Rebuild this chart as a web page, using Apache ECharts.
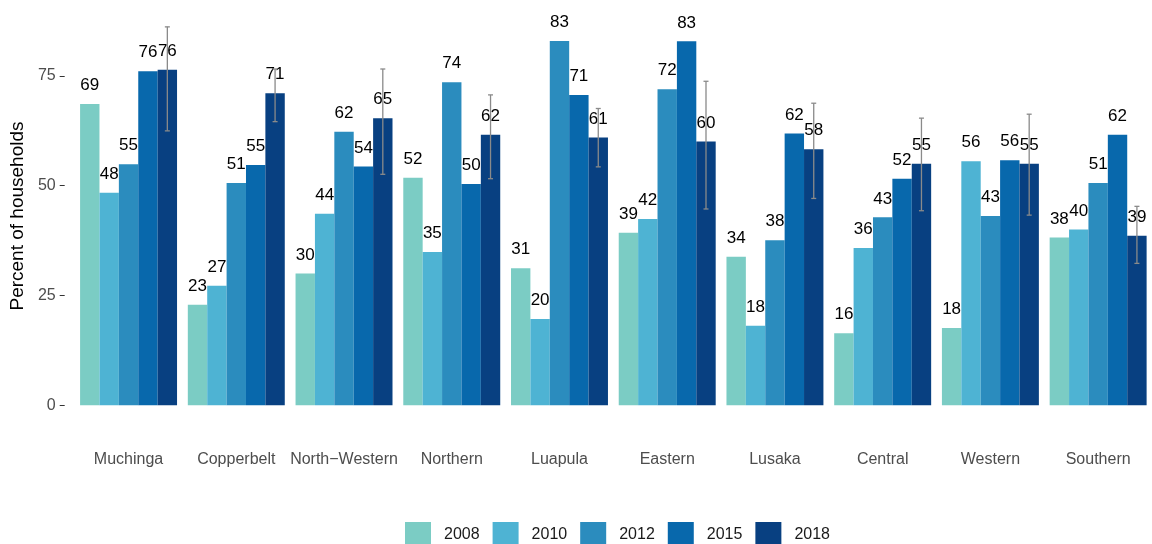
<!DOCTYPE html>
<html>
<head>
<meta charset="utf-8">
<script src="https://cdn.jsdelivr.net/npm/echarts@6/dist/echarts.min.js"></script>
<style>
html,body{margin:0;padding:0;background:#fff;}
#chart{width:1152px;height:544px;}
</style>
</head>
<body>
<div id="chart"></div>
<script>
const categories = ['Muchinga','Copperbelt','North\u2212Western','Northern','Luapula','Eastern','Lusaka','Central','Western','Southern'];
const years = ['2008','2010','2012','2015','2018'];
const v2008 = [68.6, 22.9, 30.0, 51.8, 31.2, 39.3, 33.8, 16.4, 17.6, 38.2];
const v2010 = [48.4, 27.2, 43.6, 34.9, 19.6, 42.4, 18.1, 35.8, 55.6, 40.0];
const v2012 = [54.9, 50.6, 62.3, 73.6, 83.0, 72.0, 37.6, 42.8, 43.1, 50.6];
const v2015 = [76.1, 54.7, 54.4, 50.4, 70.7, 82.9, 61.9, 51.6, 55.8, 61.6];
const v2018 = [76.4, 71.1, 65.4, 61.6, 61.0, 60.1, 58.3, 55.0, 55.0, 38.6];
const err2018Low  = [62.5, 64.6, 52.6, 51.6, 54.3, 44.7, 47.1, 44.3, 43.3, 32.3];
const err2018High = [86.2, 76.6, 76.6, 70.7, 67.6, 73.8, 68.8, 65.4, 66.3, 45.3];
const yTicks = [0, 25, 50, 75];
const colors = ['#7bccc4','#4eb3d3','#2b8cbe','#0868ac','#084081'];

const seriesValues = [v2008, v2010, v2012, v2015, v2018];
const FONT = 'Liberation Sans, Arial, sans-serif';

const barSeries = years.map((y, i) => ({
  name: y,
  type: 'bar',
  data: seriesValues[i],
  barWidth: '18%',
  barGap: '0%',
  itemStyle: { color: colors[i] },
  label: {
    show: true,
    position: 'top',
    distance: 10,
    color: '#000',
    fontSize: 17,
    fontFamily: FONT,
    formatter: p => Math.round(p.value)
  },
  z: 2
}));

const errData = categories.map((c, i) => [i, err2018Low[i], err2018High[i]]);

const errSeries = {
  type: 'custom',
  name: 'err',
  data: errData,
  encode: { x: 0, y: [1, 2] },
  z: 10,
  silent: true,
  renderItem: function (params, api) {
    const xi = api.value(0);
    const lo = api.coord([xi, api.value(1)]);
    const hi = api.coord([xi, api.value(2)]);
    const band = api.size([1, 0])[0];
    const off = band * 0.18 * 2;
    const x = lo[0] + off;
    const cap = 2.5;
    const style = { stroke: '#8a8a8a', lineWidth: 1.3 };
    return {
      type: 'group',
      children: [
        { type: 'line', shape: { x1: x, y1: lo[1], x2: x, y2: hi[1] }, style: style },
        { type: 'line', shape: { x1: x - cap, y1: lo[1], x2: x + cap, y2: lo[1] }, style: style },
        { type: 'line', shape: { x1: x - cap, y1: hi[1], x2: x + cap, y2: hi[1] }, style: style }
      ]
    };
  }
};

const chart = echarts.init(document.getElementById('chart'), null, { renderer: 'canvas' });
chart.setOption({
  backgroundColor: '#fff',
  animation: false,
  textStyle: { fontFamily: FONT },
  grid: { left: 70, right: 0, top: 8, bottom: 120, containLabel: false },
  legend: {
    data: years,
    left: 400,
    top: 517,
    itemWidth: 26,
    itemHeight: 26,
    itemGap: 13,
    icon: 'rect',
    textStyle: { fontSize: 16, color: '#1a1a1a', fontFamily: FONT, padding: [0, 0, 0, 8] }
  },
  xAxis: {
    type: 'category',
    data: categories,
    axisLine: { show: false },
    axisTick: { show: false },
    axisLabel: { color: '#4d4d4d', fontSize: 16, margin: 28, fontFamily: FONT, interval: 0 },
    splitLine: { show: false }
  },
  yAxis: {
    type: 'value',
    min: -4.3,
    max: 90.5,
    offset: 10,
    name: 'Percent of households',
    nameLocation: 'middle',
    nameRotate: 90,
    nameGap: 31,
    nameTextStyle: { fontSize: 19, color: '#000', fontFamily: FONT },
    axisLine: { show: false },
    axisTick: { show: true, length: 5, customValues: yTicks, lineStyle: { color: '#333', width: 1 } },
    axisLabel: { color: '#4d4d4d', fontSize: 16, margin: 9, customValues: yTicks, fontFamily: FONT },
    splitLine: { show: false }
  },
  series: barSeries.concat([errSeries])
});
</script>
</body>
</html>
